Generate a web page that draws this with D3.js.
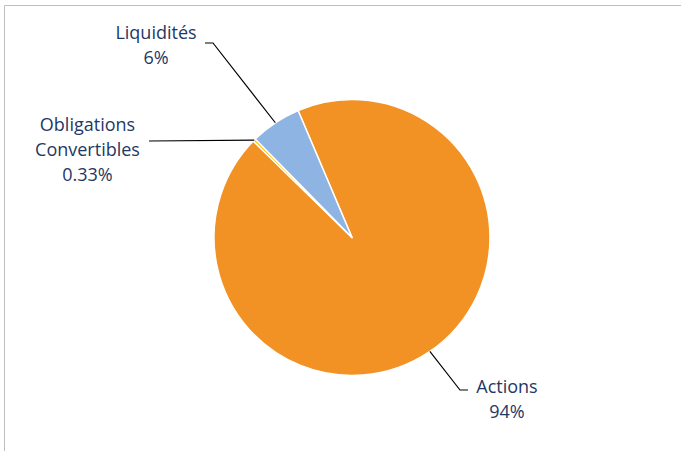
<!DOCTYPE html>
<html>
<head>
  <meta charset="utf-8">
  <script src="https://d3js.org/d3.v7.min.js"></script>
  <style>
    body { margin: 0; background: #fff; }
    text { font-family: "Open Sans", sans-serif; fill: #1F3864; }
  </style>
</head>
<body>
<script>
  // chart data
  var categories = ["Actions", "Obligations Convertibles", "Liquidités"];
  var values = [93.7, 0.33, 5.97];
  var pctLabels = ["94%", "0.33%", "6%"];
  var colors = ["#F39224", "#FFC000", "#8DB4E2"];

  var width = 681, height = 451;
  var cx = 352, cy = 237.5, radius = 138;
  var startDeg = -23;

  var svg = d3.select("body").append("svg")
      .attr("width", width)
      .attr("height", height);

  // chart frame (only top and left edges show)
  svg.append("path")
      .attr("d", "M4.5," + height + "V5.5H" + width)
      .attr("fill", "none")
      .attr("stroke", "#BFBFBF")
      .attr("stroke-width", 1);

  var pie = d3.pie()
      .sort(null)
      .startAngle(startDeg * Math.PI / 180)
      .endAngle((startDeg + 360) * Math.PI / 180);

  var arc = d3.arc().innerRadius(0).outerRadius(radius);
  var arcs = pie(values);

  var g = svg.append("g").attr("transform", "translate(" + cx + "," + cy + ")");

  g.selectAll("path.slice")
      .data(arcs)
      .enter().append("path")
      .attr("class", "slice")
      .attr("d", arc)
      .attr("fill", function(d, i) { return colors[i]; })
      .attr("stroke", "#fff")
      .attr("stroke-width", 1.5)
      .attr("stroke-linejoin", "round");

  // label layout: text lines, centre x/first baseline relative to pie centre, leader elbow
  var labelSetup = [
    { lines: ["Actions"], dx: 155, dy: 155.5, elbow: [[108, 152.5], [116, 152.5]] },
    { lines: ["Obligations", "Convertibles"], dx: -264.5, dy: -107, elbow: [[-203, -96.5]] },
    { lines: ["Liquidités"], dx: -196, dy: -198.5, elbow: [[-139, -194.5], [-147, -194.5]] }
  ];

  arcs.forEach(function(d, i) {
    var mid = (d.startAngle + d.endAngle) / 2;
    var ax = radius * Math.sin(mid), ay = -radius * Math.cos(mid);
    var pts = [[ax, ay]].concat(labelSetup[i].elbow);

    g.append("path")
        .attr("d", d3.line()(pts))
        .attr("fill", "none")
        .attr("stroke", "#000")
        .attr("stroke-width", 1.2);

    var t = g.append("text")
        .attr("text-anchor", "middle")
        .attr("font-size", 18);
    labelSetup[i].lines.concat([pctLabels[i]]).forEach(function(s, k) {
      t.append("tspan")
          .attr("x", labelSetup[i].dx)
          .attr("y", labelSetup[i].dy + k * 25.3)
          .text(s);
    });
  });
</script>
</body>
</html>
